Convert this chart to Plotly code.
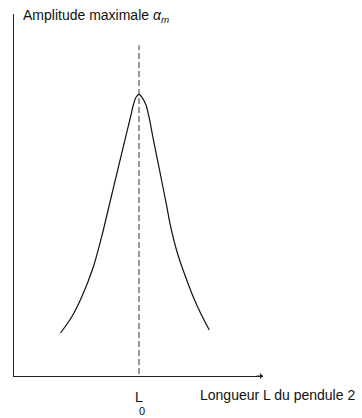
import plotly.graph_objects as go

# Data (abstract units: L along x, amplitude along y)
L0 = 5.02
curve_L = [1.867, 2.317, 2.719, 3.185, 3.538, 3.827, 4.165, 4.502, 4.679, 4.791, 4.900, 5.020,
           5.141, 5.301, 5.422, 5.562, 5.843, 6.124, 6.237, 6.418, 6.586, 6.747, 6.968, 7.201, 7.490, 7.843]
curve_A = [1.188, 1.630, 2.182, 3.011, 3.895, 4.724, 5.691, 6.657, 7.155, 7.486, 7.699, 7.782,
           7.699, 7.486, 7.155, 6.657, 5.691, 4.724, 4.309, 3.757, 3.343, 3.011, 2.597, 2.182, 1.740, 1.271]
dash_y = [-0.19, 9.14]

x_title = "Longueur L du pendule 2"
y_title = "Amplitude maximale <i>α</i><sub><i>m</i></sub>"

FONT = "Liberation Sans, Arial, sans-serif"

fig = go.Figure()
fig.add_trace(go.Scatter(
    x=[L0, L0], y=dash_y, mode="lines",
    line=dict(color="#555555", width=1.2, dash="6px,3px"),
    cliponaxis=False, hoverinfo="skip", showlegend=False))
fig.add_trace(go.Scatter(
    x=curve_L, y=curve_A, mode="lines",
    line=dict(color="#111111", width=1.2, shape="spline", smoothing=0.8),
    cliponaxis=False, showlegend=False))

fig.update_layout(
    width=362, height=418,
    margin=dict(l=14, r=99, t=14, b=42),
    paper_bgcolor="white", plot_bgcolor="white",
    font=dict(family=FONT, color="#111111"),
    xaxis=dict(range=[0, 10], showline=True, linecolor="#222222", linewidth=1.2,
               showgrid=False, zeroline=False, showticklabels=False, ticks=""),
    yaxis=dict(range=[0, 10], showline=True, linecolor="#222222", linewidth=1.2,
               showgrid=False, zeroline=False, showticklabels=False, ticks=""),
    annotations=[
        dict(x=10, y=0, xref="x", yref="y", ax=-8, ay=0, axref="pixel", ayref="pixel",
             showarrow=True, arrowhead=1, arrowsize=1, arrowwidth=1, arrowcolor="#222222", text=""),
        dict(x=0, y=1, xref="paper", yref="paper", xanchor="left", yanchor="middle",
             xshift=7, yshift=-2, text=y_title, showarrow=False, font=dict(size=14)),
        dict(x=10, y=0, xref="x", yref="y", xanchor="left", yanchor="middle",
             xshift=-65, yshift=-19, text=x_title, showarrow=False, font=dict(size=14)),
        dict(x=L0, y=0, xref="x", yref="y", xanchor="center", yanchor="middle",
             xshift=0, yshift=-21, text="L", showarrow=False, font=dict(size=14)),
        dict(x=L0, y=0, xref="x", yref="y", xanchor="center", yanchor="middle",
             xshift=3, yshift=-35, text="0", showarrow=False, font=dict(size=11)),
    ],
)

fig.write_html("out.html")
